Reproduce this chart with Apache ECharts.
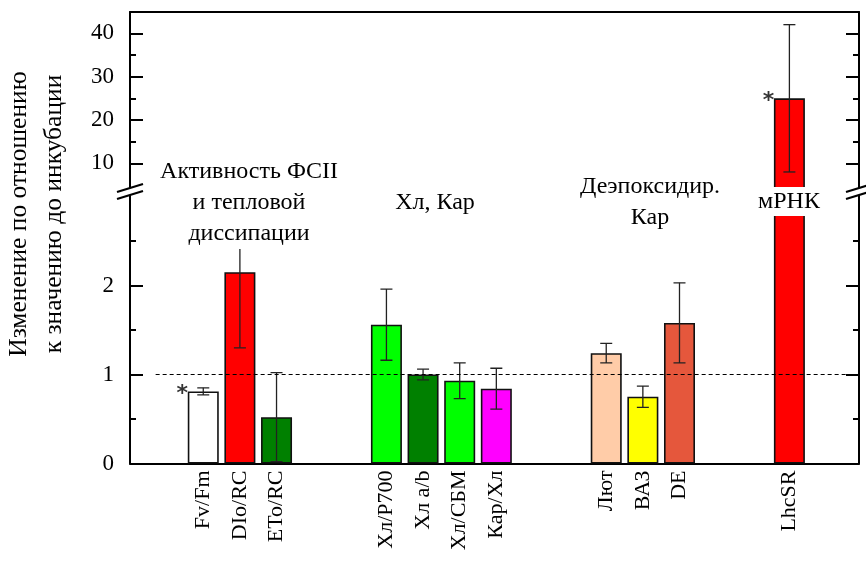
<!DOCTYPE html>
<html><head><meta charset="utf-8">
<script src="https://cdn.jsdelivr.net/npm/echarts@6/dist/echarts.min.js"></script>
<style>html,body{margin:0;padding:0;background:#fff}#c{width:866px;height:563px}</style>
</head><body><div id="c"></div>
<script>
// Categories ('' = empty slot between groups)
const categories = ['Fv/Fm','DIo/RC','ETo/RC','','','Хл/P700','Хл a/b','Хл/СБМ','Кар/Хл','','','Лют','ВАЗ','DE','','','LhcSR'];
const values     = [0.81, 2.15, 0.52, null, null, 1.56, 1.00, 0.93, 0.84, null, null, 1.24, 0.75, 1.58, null, null, 25];
const errors     = [0.04, 0.85, 0.50, null, null, 0.40, 0.06, 0.20, 0.23, null, null, 0.11, 0.12, 0.45, null, null, 17];
const significance = ['*','','','','','','','','','','','','','','','','*'];
const barColors  = ['#ffffff','#ff0000','#008000','','','#00ff00','#008000','#00ff00','#ff00ff','','','#ffcca8','#ffff00','#e5573c','','','#ff0000'];
const lowerTickLabels = [0, 1, 2];
const lowerMinorTicks = [0.5, 1.5, 2.5];
const upperTickLabels = [10, 20, 30, 40];
const upperMinorTicks = [15, 25, 35];
const referenceLevel = 1;

const LOWER = {min: 0, max: 3.073};
const UPPER = {min: 3.84, max: 44.92};
const X = {min: -2, max: 17.9};
const SERIF = 'Liberation Serif';

const chart = echarts.init(document.getElementById('c'), null, {renderer: 'canvas'});

const labelIdx = categories.map((c, i) => c ? i : -1).filter(i => i >= 0);

function barData(range) {
  const out = [];
  values.forEach((v, i) => {
    if (v == null) return;
    if (v <= range.min) return;
    out.push({value: [i, v], itemStyle: {color: barColors[i]}});
  });
  return out;
}
function errData(range) {
  const out = [];
  values.forEach((v, i) => {
    if (v == null) return;
    if (v > range.max || v < range.min) return;
    out.push([i, v - errors[i], v + errors[i]]);
  });
  return out;
}
function starData(range) {
  const out = [];
  values.forEach((v, i) => {
    if (v == null || !significance[i]) return;
    if (v > range.max || v < range.min) return;
    out.push({value: [i, v], name: significance[i]});
  });
  return out;
}

const errRender = function (params, api) {
  const x = api.value(0), lo = api.value(1), hi = api.value(2);
  const a = api.coord([x, lo]), b = api.coord([x, hi]);
  const hw = 6;
  const st = {stroke: '#222', lineWidth: 1.3};
  return {type: 'group', children: [
    {type: 'line', shape: {x1: a[0], y1: a[1], x2: b[0], y2: b[1]}, style: st},
    {type: 'line', shape: {x1: a[0] - hw, y1: a[1], x2: a[0] + hw, y2: a[1]}, style: st},
    {type: 'line', shape: {x1: b[0] - hw, y1: b[1], x2: b[0] + hw, y2: b[1]}, style: st}
  ]};
};

function yAx(grid, range, pos, ticks, len, labels, line) {
  return {
    type: 'value', gridIndex: grid, position: pos, min: range.min, max: range.max,
    axisLine: {show: line, onZero: false, lineStyle: {color: '#000', width: 2}},
    axisTick: {show: true, inside: true, length: len, customValues: ticks, lineStyle: {color: '#000', width: 2}},
    axisLabel: labels ? {show: true, customValues: labels, fontFamily: SERIF, fontSize: 23, color: '#000', margin: 16} : {show: false},
    splitLine: {show: false}
  };
}

const starLabel = {
  show: true, formatter: p => p.data.name, position: 'inside', offset: [-21, 2.5],
  fontFamily: 'DejaVu Sans', fontWeight: 'bold', fontSize: 22, color: '#000'
};

const option = {
  animation: false,
  backgroundColor: '#fff',
  grid: [
    {left: 130, right: 7, top: 12, height: 178},
    {left: 130, right: 7, top: 190, bottom: 99.5}
  ],
  xAxis: [
    {type: 'value', gridIndex: 0, position: 'top', min: X.min, max: X.max,
     axisLine: {show: true, onZero: false, lineStyle: {color: '#000', width: 2}},
     axisTick: {show: false}, axisLabel: {show: false}, splitLine: {show: false}},
    {type: 'value', gridIndex: 1, position: 'bottom', min: X.min, max: X.max,
     axisLine: {show: true, onZero: false, lineStyle: {color: '#000', width: 2}},
     axisTick: {show: false}, splitLine: {show: false},
     axisLabel: {show: true, customValues: labelIdx, formatter: v => categories[v] || '',
       rotate: 90, margin: 7, fontFamily: SERIF, fontSize: 22, color: '#000'}}
  ],
  yAxis: [
    yAx(0, UPPER, 'left', upperTickLabels, 13, upperTickLabels, true),
    yAx(0, UPPER, 'left', upperMinorTicks, 6, null, false),
    yAx(0, UPPER, 'right', upperTickLabels, 13, null, true),
    yAx(0, UPPER, 'right', upperMinorTicks, 6, null, false),
    yAx(1, LOWER, 'left', lowerTickLabels, 13, lowerTickLabels, true),
    yAx(1, LOWER, 'left', lowerMinorTicks, 6, null, false),
    yAx(1, LOWER, 'right', lowerTickLabels, 13, null, true),
    yAx(1, LOWER, 'right', lowerMinorTicks, 6, null, false)
  ],
  series: [
    {type: 'bar', xAxisIndex: 0, yAxisIndex: 0, barWidth: 31, clip: true,
     itemStyle: {borderColor: '#111', borderWidth: 1.6}, data: barData(UPPER)},
    {type: 'bar', xAxisIndex: 1, yAxisIndex: 4, barWidth: 31, clip: true,
     itemStyle: {borderColor: '#111', borderWidth: 1.6}, data: barData(LOWER),
     markLine: {silent: true, symbol: 'none', label: {show: false},
       lineStyle: {color: '#000', type: [4, 3], width: 1.2},
       data: [[{coord: [-1.3, referenceLevel]}, {coord: [X.max, referenceLevel]}]]}},
    {type: 'custom', xAxisIndex: 0, yAxisIndex: 0, clip: true, renderItem: errRender, data: errData(UPPER), z: 3},
    {type: 'custom', xAxisIndex: 1, yAxisIndex: 4, clip: true, renderItem: errRender, data: errData(LOWER), z: 3},
    {type: 'scatter', xAxisIndex: 0, yAxisIndex: 0, symbolSize: 2, itemStyle: {color: 'rgba(0,0,0,0)'}, label: starLabel, data: starData(UPPER), z: 4},
    {type: 'scatter', xAxisIndex: 1, yAxisIndex: 4, symbolSize: 2, itemStyle: {color: 'rgba(0,0,0,0)'}, label: starLabel, data: starData(LOWER), z: 4}
  ],
  graphic: [
    // axis break marks
    {type: 'polygon', z: 100, shape: {points: [[117,192],[143,184],[143,191],[117,199]]}, style: {fill: '#fff'}},
    {type: 'line', z: 101, shape: {x1: 117, y1: 192, x2: 143, y2: 184}, style: {stroke: '#000', lineWidth: 2}},
    {type: 'line', z: 101, shape: {x1: 117, y1: 199, x2: 143, y2: 191}, style: {stroke: '#000', lineWidth: 2}},
    {type: 'polygon', z: 100, shape: {points: [[846,192],[872,184],[872,191],[846,199]]}, style: {fill: '#fff'}},
    {type: 'line', z: 101, shape: {x1: 846, y1: 192, x2: 872, y2: 184}, style: {stroke: '#000', lineWidth: 2}},
    {type: 'line', z: 101, shape: {x1: 846, y1: 199, x2: 872, y2: 191}, style: {stroke: '#000', lineWidth: 2}},
    // group annotations
    {type: 'text', z: 100, x: 249, y: 156, style: {text: 'Активность ФСII\nи тепловой\nдиссипации', fontFamily: SERIF, fontSize: 24, lineHeight: 31, align: 'center', verticalAlign: 'top', fill: '#000', backgroundColor: '#fff'}},
    {type: 'text', z: 100, x: 435, y: 203, style: {text: 'Хл, Кар', fontFamily: SERIF, fontSize: 24, lineHeight: 31, align: 'center', verticalAlign: 'middle', fill: '#000'}},
    {type: 'text', z: 100, x: 650, y: 171, style: {text: 'Деэпоксидир.\nКар', fontFamily: SERIF, fontSize: 24, lineHeight: 31, align: 'center', verticalAlign: 'top', fill: '#000', backgroundColor: '#fff'}},
    {type: 'text', z: 100, x: 789, y: 201.5, style: {text: 'мРНК', fontFamily: SERIF, fontSize: 24, lineHeight: 29, align: 'center', verticalAlign: 'middle', fill: '#000', backgroundColor: '#fff'}},
    // y axis title
    {type: 'text', z: 100, x: 19, y: 214, rotation: Math.PI / 2, style: {text: 'Изменение по отношению', fontFamily: SERIF, fontSize: 25.5, align: 'center', verticalAlign: 'middle', fill: '#000'}},
    {type: 'text', z: 100, x: 54, y: 214, rotation: Math.PI / 2, style: {text: 'к значению до инкубации', fontFamily: SERIF, fontSize: 25.5, align: 'center', verticalAlign: 'middle', fill: '#000'}}
  ]
};
chart.setOption(option);
</script>
</body></html>
